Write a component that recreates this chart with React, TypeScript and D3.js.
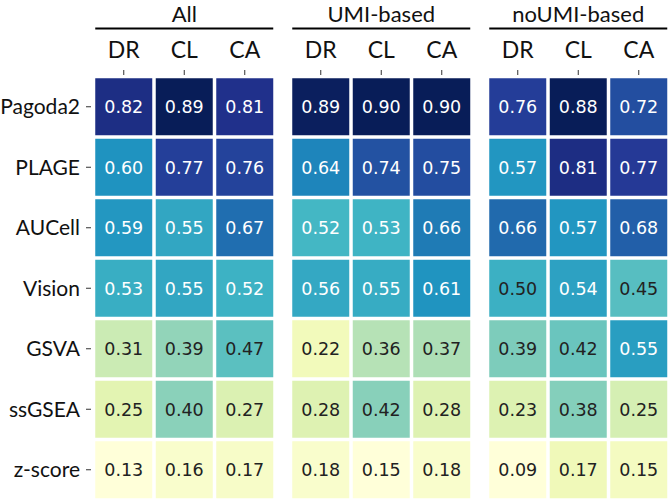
import * as d3 from 'd3'

const methods = ['Pagoda2', 'PLAGE', 'AUCell', 'Vision', 'GSVA', 'ssGSEA', 'z-score']
const metrics = ['DR', 'CL', 'CA']
const groups = ['All', 'UMI-based', 'noUMI-based']

const allValues = [
  [0.82, 0.89, 0.81],
  [0.6, 0.77, 0.76],
  [0.59, 0.55, 0.67],
  [0.53, 0.55, 0.52],
  [0.31, 0.39, 0.47],
  [0.25, 0.4, 0.27],
  [0.13, 0.16, 0.17],
]
const umiValues = [
  [0.89, 0.9, 0.9],
  [0.64, 0.74, 0.75],
  [0.52, 0.53, 0.66],
  [0.56, 0.55, 0.61],
  [0.22, 0.36, 0.37],
  [0.28, 0.42, 0.28],
  [0.18, 0.15, 0.18],
]
const noUmiValues = [
  [0.76, 0.88, 0.72],
  [0.57, 0.81, 0.77],
  [0.66, 0.57, 0.68],
  [0.5, 0.54, 0.45],
  [0.39, 0.42, 0.55],
  [0.23, 0.38, 0.25],
  [0.09, 0.17, 0.15],
]

// matplotlib YlGnBu (ColorBrewer 9)
const ylgnbu = ['#ffffd9', '#edf8b1', '#c7e9b4', '#7fcdbb', '#41b6c4', '#1d91c0', '#225ea8', '#253494', '#081d58']

const W = 669
const H = 500
const panelW = 181.5
const panelStep = 197
const left = 93.5
const top = 76.5
const gap = 1.75
const labelFont = 'Lato, "Open Sans", sans-serif'

function Panel({ title, values, x0 }: { title: string; values: number[][]; x0: number }) {
  const x = d3.scaleBand<string>().domain(metrics).range([x0, x0 + panelW])
  const y = d3.scaleBand<string>().domain(methods).range([top, H])
  const [lo, hi] = d3.extent(values.flat()) as [number, number]
  // each panel normalised to its own min/max
  const color = d3
    .scaleLinear<string>()
    .domain(ylgnbu.map((_, i) => lo + (i * (hi - lo)) / (ylgnbu.length - 1)))
    .range(ylgnbu)
    .clamp(true)

  return (
    <g>
      <text x={x0 + panelW / 2} y={22} textAnchor="middle" fontSize={22} fontFamily={labelFont} fill="#111">
        {title}
      </text>
      <line x1={x0 + gap} x2={x0 + panelW - gap} y1={28.5} y2={28.5} stroke="#000" strokeWidth={2} />
      {metrics.map((m) => (
        <g key={m}>
          <text
            x={x(m)! + x.bandwidth() / 2}
            y={58}
            textAnchor="middle"
            fontSize={23}
            fontFamily={labelFont}
            fill="#111"
          >
            {m}
          </text>
          <line
            x1={x(m)! + x.bandwidth() / 2}
            x2={x(m)! + x.bandwidth() / 2}
            y1={70}
            y2={75}
            stroke="#333"
            strokeWidth={1}
          />
        </g>
      ))}
      {methods.map((r, i) =>
        metrics.map((m, j) => {
          const v = values[i][j]
          return (
            <g key={r + m}>
              <rect
                x={x(m)! + gap}
                y={y(r)! + gap}
                width={x.bandwidth() - 2 * gap}
                height={y.bandwidth() - 2 * gap}
                fill={color(v)}
              />
              <text
                x={x(m)! + x.bandwidth() / 2}
                y={y(r)! + y.bandwidth() / 2}
                dy="0.36em"
                textAnchor="middle"
                fontSize={17.5}
                fontFamily='"DejaVu Sans", sans-serif'
                fill={v > 0.5 ? '#fff' : '#222'}
              >
                {v.toFixed(2)}
              </text>
            </g>
          )
        })
      )}
    </g>
  )
}

export default function App() {
  const y = d3.scaleBand<string>().domain(methods).range([top, H])
  const datasets = [allValues, umiValues, noUmiValues]
  return (
    <svg width={W} height={H} style={{ position: 'absolute', left: 0, top: 0, background: '#fff' }}>
      {groups.map((g, k) => (
        <Panel key={g} title={g} values={datasets[k]} x0={left + k * panelStep} />
      ))}
      {methods.map((r) => (
        <g key={r}>
          <text
            x={80}
            y={y(r)! + y.bandwidth() / 2}
            dy="0.35em"
            textAnchor="end"
            fontSize={21}
            fontFamily={labelFont}
            fill="#111"
          >
            {r}
          </text>
          <line
            x1={86}
            x2={91}
            y1={y(r)! + y.bandwidth() / 2}
            y2={y(r)! + y.bandwidth() / 2}
            stroke="#333"
            strokeWidth={1}
          />
        </g>
      ))}
    </svg>
  )
}
